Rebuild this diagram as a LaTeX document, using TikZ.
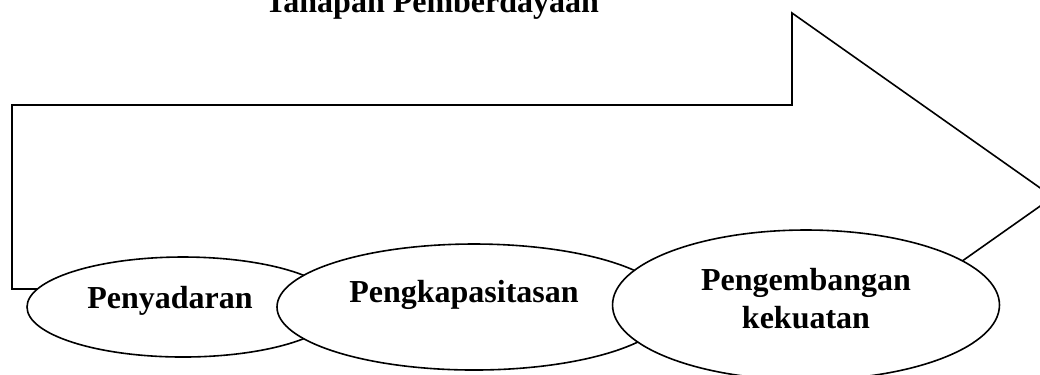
\documentclass[tikz,border=0pt]{standalone}
\usepackage{fontspec}
\setmainfont{Liberation Serif}
\usetikzlibrary{shapes.geometric}
\tikzstyle{tahap}=[ellipse, draw, fill=white, inner sep=0pt]
\tikzstyle{tulisan}=[font=\fontsize{12}{14.25}\selectfont\bfseries, inner sep=0pt, align=center]

\begin{document}
\begin{tikzpicture}[x=0.375pt, y=-0.375pt, line width=0.6pt]
                    \clip (0,0) rectangle (1040,374);
                    \node[tulisan, anchor=base] (judul) at (432,12) {Tahapan Pemberdayaan};
                    \draw (12,289)--(12,105)--(792,105)--(792,13)--(1053,197)--(792,381)--(792,289)--cycle;
                    \node[tahap, minimum width=117pt, minimum height=37.5pt] (sadar) at (183,307) {};
                    \node[tahap, minimum width=147.75pt, minimum height=47.25pt] (kapasitas) at (474,307) {};
                    \node[tahap, minimum width=145.1pt, minimum height=56.25pt] (kuat) at (806,305) {};
                    \node[tulisan, anchor=base] (t-sadar) at (170,308) {Penyadaran};
                    \node[tulisan, anchor=base] (t-kapasitas) at (464,302) {Pengkapasitasan};
                    \node[tulisan, anchor=base] (t-kuat) at (806,328) {Pengembangan\\kekuatan};
                \end{tikzpicture}
\end{document}
